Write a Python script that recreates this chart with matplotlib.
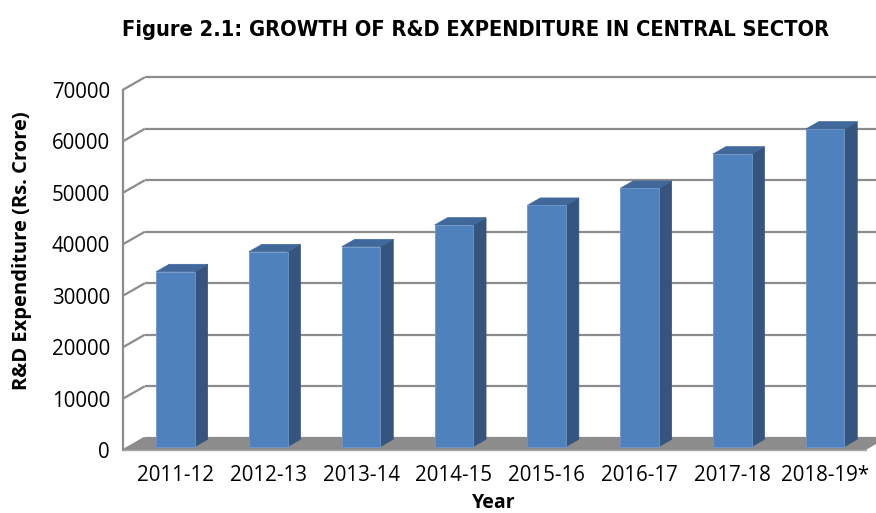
import matplotlib
matplotlib.use('Agg')
import matplotlib.pyplot as plt
import matplotlib.patches as mpatches
from matplotlib import font_manager
import numpy as np

# ── Data ────────────────────────────────────────────────────────────────
years = ['2011-12', '2012-13', '2013-14', '2014-15', '2015-16', '2016-17',
         '2017-18', '2018-19*']
expenditure = [33990, 37870, 38840, 43050, 46880, 50180, 56840, 61700]
y_ticks = [0, 10000, 20000, 30000, 40000, 50000, 60000, 70000]

TITLE = 'Figure 2.1: GROWTH OF R&D EXPENDITURE IN CENTRAL SECTOR'
YLABEL = 'R&D Expenditure (Rs. Crore)'
XLABEL = 'Year'

# ── Style ───────────────────────────────────────────────────────────────
FRONT = '#4F81BD'
SIDE = '#35557E'
TOP = '#41689B'
EDGE = '#7096C8'
GRID = '#8C8C8C'
FLOOR = '#8C8C8C'

plt.rcParams['font.family'] = ['Open Sans', 'DejaVu Sans']

W, H = 876, 513
fig = plt.figure(figsize=(W / 100, H / 100), dpi=100)
fig.patch.set_facecolor('white')

# front plane of the fake-3D box, in pixels from top-left
L, R, B, T = 123.3, 865.7, 450.0, 89.6
ax = fig.add_axes([L / W, 1 - B / H, (R - L) / W, (B - T) / H])
ymax = y_ticks[-1]
n = len(years)
x0, x1 = -0.5, n - 0.5
ax.set_xlim(x0, x1)
ax.set_ylim(0, ymax)
for s in ax.spines.values():
    s.set_visible(False)

# depth offsets (pixels -> data units)
px_x = (R - L) / n
px_y = (B - T) / ymax
dx = 21.5 / px_x
dy = 12.3 / px_y
f0, f1 = 0.27, 0.87          # bar front / back depth fraction
bw = 38.5 / px_x

# ── Walls: gridlines on back wall + slants on left wall ────────────────
for v in y_ticks:
    ax.plot([x0, x0 + dx], [v, v + dy], color=GRID, lw=1.6, zorder=1,
            clip_on=False, solid_capstyle='butt')
    ax.plot([x0 + dx, x1 + dx + 1], [v + dy, v + dy], color=GRID, lw=1.6,
            zorder=1, clip_on=False, solid_capstyle='butt')
ax.plot([x0, x0], [0, ymax], color=GRID, lw=1.6, zorder=1, clip_on=False)

# floor
ax.add_patch(mpatches.Polygon([(x0, 0), (x1, 0), (x1 + dx, dy), (x0 + dx, dy)],
                              closed=True, facecolor=FLOOR, edgecolor='none',
                              zorder=2, clip_on=False))
ax.plot([x0, x1], [0, 0], color='#A6A6A6', lw=1.0, zorder=2, clip_on=False)

# ── Bars ───────────────────────────────────────────────────────────────
xs = np.arange(n)
ax.bar(xs + f0 * dx, expenditure, width=bw, bottom=f0 * dy, color=FRONT,
       edgecolor=EDGE, linewidth=0.6, zorder=5)
for x, v in zip(xs, expenditure):
    xl = x - bw / 2
    xr = x + bw / 2
    side = [(xr + f0 * dx, f0 * dy), (xr + f1 * dx, f1 * dy),
            (xr + f1 * dx, v + f1 * dy), (xr + f0 * dx, v + f0 * dy)]
    top = [(xl + f0 * dx, v + f0 * dy), (xr + f0 * dx, v + f0 * dy),
           (xr + f1 * dx, v + f1 * dy), (xl + f1 * dx, v + f1 * dy)]
    ax.add_patch(mpatches.Polygon(side, closed=True, facecolor=SIDE,
                                  edgecolor=SIDE, lw=0.5, zorder=4, clip_on=False))
    ax.add_patch(mpatches.Polygon(top, closed=True, facecolor=TOP,
                                  edgecolor=TOP, lw=0.5, zorder=4, clip_on=False))

# ── Ticks and labels ───────────────────────────────────────────────────
ax.set_xticks(xs + f0 * dx, years)
ax.set_yticks(y_ticks, [str(t) for t in y_ticks])
ax.tick_params(axis='both', length=0, labelsize=14.8, colors='black')
ax.tick_params(axis='x', pad=11)
ax.tick_params(axis='y', pad=9.5)

# title: condensed bold if one is installed, scaled to the reference width
cond = font_manager.FontProperties(family='DejaVu Sans', stretch='condensed',
                                   weight='bold')
title_kw = dict(fontweight='bold', family=['Open Sans', 'DejaVu Sans'])
if 'Condensed' in font_manager.findfont(cond, fallback_to_default=True):
    title_kw = dict(fontweight='bold', family='DejaVu Sans', fontstretch='condensed')
ttl = fig.text((118 + 833) / 2 / W, 1 - 30 / H, TITLE, ha='center', va='center',
               fontsize=16, **title_kw)
rend = fig.canvas.get_renderer()
tw = ttl.get_window_extent(rend).width
ttl.set_fontsize(16 * 715 / tw)

fig.text(22 / W, 1 - 251 / H, YLABEL, rotation=90, ha='center', va='center',
         fontsize=14.5, fontweight='bold')
fig.text(494 / W, 1 - 503 / H, XLABEL, ha='center', va='center',
         fontsize=14, fontweight='bold')

fig.savefig('out.png', dpi=100)
